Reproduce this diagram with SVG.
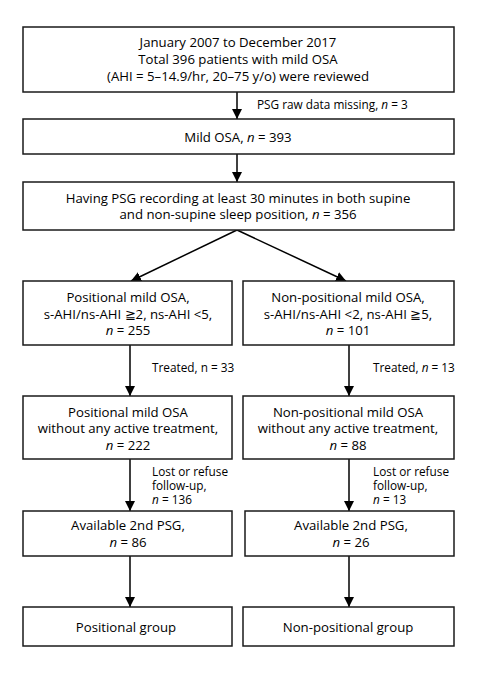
<svg xmlns="http://www.w3.org/2000/svg" width="497" height="673" viewBox="0 0 497 673">
<defs>
<marker id="ah" viewBox="0 0 10 10" refX="10" refY="5" markerWidth="10" markerHeight="10" markerUnits="userSpaceOnUse" orient="auto">
<path d="M0,0 L10,5 L0,10 z" fill="#000"/>
</marker>
<style>
.box{fill:#fff;stroke:#1a1a1a;stroke-width:1.5}
.t{font-family:"Open Sans","Noto Sans",sans-serif;font-size:13.2px;fill:#000;text-anchor:middle}
.s{font-family:"Open Sans","Noto Sans",sans-serif;font-size:11.8px;fill:#000}
.c{stroke:#000;stroke-width:1.5;fill:none;marker-end:url(#ah)}
</style>
</defs>
<rect width="497" height="673" fill="#fff"/>
<g id="connectors">
<line class="c" x1="237" y1="92" x2="237" y2="119"/>
<line class="c" x1="237" y1="154" x2="237" y2="182"/>
<line class="c" x1="237" y1="230" x2="131" y2="281"/>
<line class="c" x1="237" y1="230" x2="346" y2="281"/>
<line class="c" x1="130" y1="345" x2="130" y2="396"/>
<line class="c" x1="349" y1="345" x2="349" y2="396"/>
<line class="c" x1="130" y1="459" x2="130" y2="511"/>
<line class="c" x1="349" y1="459" x2="349" y2="511"/>
<line class="c" x1="130" y1="556" x2="130" y2="607"/>
<line class="c" x1="349" y1="556" x2="349" y2="607"/>
<text class="s" x="257" y="109">PSG raw data missing, <tspan font-style="italic">n</tspan> = 3</text>
<text class="s" x="152" y="372">Treated, n = 33</text>
<text class="s" x="373" y="372">Treated, <tspan font-style="italic">n</tspan> = 13</text>
<text class="s" x="152" y="476">Lost or refuse</text>
<text class="s" x="152" y="490">follow-up,</text>
<text class="s" x="152" y="504"><tspan font-style="italic">n</tspan> = 136</text>
<text class="s" x="373" y="476">Lost or refuse</text>
<text class="s" x="373" y="490">follow-up,</text>
<text class="s" x="373" y="504"><tspan font-style="italic">n</tspan> = 13</text>
</g>
<g id="n1">
<rect class="box" x="23" y="27" width="431" height="65"/>
<text class="t" x="238" y="47">January 2007 to December 2017</text>
<text class="t" x="238" y="64">Total 396 patients with mild OSA</text>
<text class="t" x="238" y="81">(AHI = 5–14.9/hr, 20–75 y/o) were reviewed</text>
</g>
<g id="n2">
<rect class="box" x="23" y="119" width="431" height="35"/>
<text class="t" x="238" y="142">Mild OSA, <tspan font-style="italic">n</tspan> = 393</text>
</g>
<g id="n3">
<rect class="box" x="23" y="182" width="431" height="48"/>
<text class="t" x="238" y="203">Having PSG recording at least 30 minutes in both supine</text>
<text class="t" x="238" y="219">and non-supine sleep position, <tspan font-style="italic">n</tspan> = 356</text>
</g>
<g id="n4">
<rect class="box" x="23" y="281" width="209" height="64"/>
<text class="t" x="128" y="302">Positional mild OSA,</text>
<text class="t" x="128" y="319">s-AHI/ns-AHI ≧2, ns-AHI &lt;5,</text>
<text class="t" x="128" y="335"><tspan font-style="italic">n</tspan> = 255</text>
</g>
<g id="n5">
<rect class="box" x="243" y="281" width="211" height="64"/>
<text class="t" x="348" y="302">Non-positional mild OSA,</text>
<text class="t" x="348" y="319">s-AHI/ns-AHI &lt;2, ns-AHI ≧5,</text>
<text class="t" x="348" y="335"><tspan font-style="italic">n</tspan> = 101</text>
</g>
<g id="n6">
<rect class="box" x="23" y="396" width="209" height="63"/>
<text class="t" x="128" y="417">Positional mild OSA</text>
<text class="t" x="128" y="433">without any active treatment,</text>
<text class="t" x="128" y="450"><tspan font-style="italic">n</tspan> = 222</text>
</g>
<g id="n7">
<rect class="box" x="243" y="396" width="211" height="63"/>
<text class="t" x="348" y="417">Non-positional mild OSA</text>
<text class="t" x="348" y="433">without any active treatment,</text>
<text class="t" x="348" y="450"><tspan font-style="italic">n</tspan> = 88</text>
</g>
<g id="n8">
<rect class="box" x="23" y="511" width="209" height="45"/>
<text class="t" x="128" y="530">Available 2nd PSG,</text>
<text class="t" x="128" y="547"><tspan font-style="italic">n</tspan> = 86</text>
</g>
<g id="n9">
<rect class="box" x="245" y="511" width="209" height="45"/>
<text class="t" x="351" y="530">Available 2nd PSG,</text>
<text class="t" x="351" y="547"><tspan font-style="italic">n</tspan> = 26</text>
</g>
<g id="n10">
<rect class="box" x="23" y="607" width="209" height="39"/>
<text class="t" x="126" y="632">Positional group</text>
</g>
<g id="n11">
<rect class="box" x="243" y="607" width="211" height="39"/>
<text class="t" x="348" y="632">Non-positional group</text>
</g>
</svg>
